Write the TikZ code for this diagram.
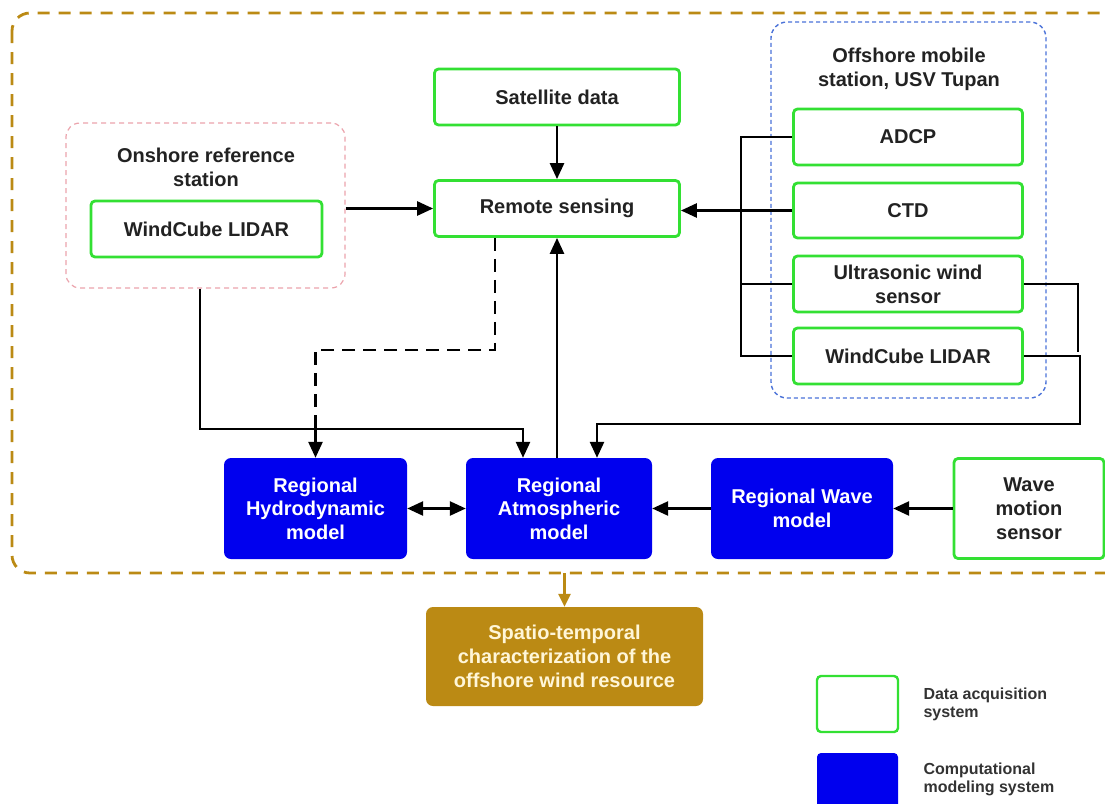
\documentclass[tikz,border=0pt]{standalone}
\usepackage{fontspec}
\setmainfont{Liberation Sans}
\usetikzlibrary{arrows.meta,calc}
\definecolor{gold}{HTML}{BB8A14}
\definecolor{dgreen}{HTML}{33E033}
\definecolor{mblue}{HTML}{0000EE}
\definecolor{pinkd}{HTML}{EBA3AC}
\definecolor{blued}{HTML}{4A72D8}
\definecolor{txt}{HTML}{222222}
\definecolor{cream}{HTML}{FFF6D8}
\begin{document}
\begin{tikzpicture}[x=1pt,y=-1pt,
  acq/.style={draw=dgreen, line width=2.8pt, fill=white, rounded corners=4pt,
    font=\bfseries\fontsize{20}{24}\selectfont, text=txt, align=center, inner sep=0pt},
  comp/.style={fill=mblue, rounded corners=7pt, text=white, inner sep=0pt,
    font=\bfseries\fontsize{20}{23.5}\selectfont, align=center,
    minimum height=101pt},
  ttl/.style={font=\bfseries\fontsize{20}{24}\selectfont, text=txt, align=center},
  conn/.style={line width=2.6pt, -{Triangle[length=16pt,width=14pt]}},
  plain/.style={line width=2.6pt},
  legtxt/.style={font=\bfseries\fontsize{16}{18}\selectfont, text=black!80, align=left, anchor=west}
]
\useasboundingbox (0,0) rectangle (1105,803);
\clip (0,0) rectangle (1105,803);

% outer gold dashed frame
\draw[gold, line width=2.8pt, dash pattern=on 12pt off 9pt, rounded corners=18pt] (12,13) rectangle (1140,573);
\coordinate (gtop) at (564.5,573);

% containers
\node[draw=pinkd, dash pattern=on 5pt off 4pt, line width=1.2pt, rounded corners=14pt,
  minimum width=279pt, minimum height=165pt] (onshore) at (205.5,205.5) {};
\node[ttl] (ontitle) at (206,167) {Onshore reference\\station};
\node[draw=blued, dash pattern=on 4pt off 3pt, line width=1.4pt, rounded corners=16pt,
  minimum width=275pt, minimum height=376pt] (offshore) at (908.5,210) {};
\node[ttl] (offtitle) at (909,69) {Offshore mobile\\station, USV Tupan};

% data acquisition boxes
\node[acq, minimum width=231pt, minimum height=56pt] (lidar1) at (206.5,229) {WindCube LIDAR};
\node[acq, minimum width=245pt, minimum height=56pt] (sat) at (557,97) {Satellite data};
\node[acq, minimum width=245pt, minimum height=56pt] (rs) at (557,208.5) {Remote sensing};
\node[acq, minimum width=229pt, minimum height=56pt] (adcp) at (908,137) {ADCP};
\node[acq, minimum width=229pt, minimum height=55pt] (ctd) at (908,210.5) {CTD};
\node[acq, minimum width=229pt, minimum height=56pt] (ultra) at (908,284) {Ultrasonic wind\\sensor};
\node[acq, minimum width=229pt, minimum height=56pt] (lidar2) at (908,356) {WindCube LIDAR};
\node[acq, minimum width=150pt, minimum height=100pt] (wms) at (1029,508.5) {Wave\\motion\\sensor};

% computational boxes
\node[comp, minimum width=183pt] (hydro) at (315.5,508.5) {Regional\\Hydrodynamic\\model};
\node[comp, minimum width=186pt] (atmo) at (559,508.5) {Regional\\Atmospheric\\model};
\node[comp, minimum width=182pt] (wave) at (802,508.5) {Regional Wave\\model};

% result box
\node[fill=gold, rounded corners=7pt, text=cream, font=\bfseries\fontsize{20}{24}\selectfont,
  align=center, minimum width=277pt, minimum height=99pt, inner sep=0pt] (final) at (564.5,656.5)
  {Spatio-temporal\\characterization of the\\offshore wind resource};

% legend
\node[draw=dgreen, line width=2.4pt, fill=white, rounded corners=4pt, minimum width=81pt, minimum height=56pt] (legacq) at (857.5,704) {};
\node[legtxt] (legacqt) at (920,704) {Data acquisition\\system};
\node[fill=mblue, rounded corners=4pt, minimum width=81pt, minimum height=70pt] (legcomp) at (857.5,788) {};
\node[legtxt] (legcompt) at (920,779) {Computational\\modeling system};

% connectors
\draw[conn] (sat) -- (rs);
\draw[conn] (onshore.east |- rs.west) -- (rs.west);
\draw[conn] (ctd.west) -- (ctd.west -| rs.east);

\coordinate (bx) at (741,0);
\draw[plain] (adcp.west) -- (adcp.west -| bx) -- (lidar2.west -| bx) -- (lidar2.west);
\draw[plain] (ultra.west) -- (ultra.west -| bx);

\coordinate (r1) at (1078,352);
\draw[plain] (ultra.east) -| (r1);
\coordinate (r2) at (1080,424);
\draw[conn] (lidar2.east) -| (r2) -| ([xshift=38pt]atmo.north);

\coordinate (l1) at (200,429);
\draw[conn] ([xshift=-5.5pt]onshore.south) -- (l1) -| ([xshift=-36pt]atmo.north);
\draw[conn] (hydro.north |- l1) -- (hydro.north);

\coordinate (d1) at (495,350);
\draw[plain, dash pattern=on 13pt off 8pt] (rs.south -| d1) -- (d1) -| (hydro.north |- l1);

\draw[conn] (atmo.north -| rs.south) -- (rs.south);

\draw[line width=2.6pt, {Triangle[length=16pt,width=14pt]}-{Triangle[length=16pt,width=14pt]}] (hydro) -- (atmo);
\draw[conn] (wave) -- (atmo);
\draw[conn] (wms) -- (wave);

\draw[gold, line width=2.5pt, -{Triangle[length=13pt,width=12pt]}] (gtop) -- (final.north);
\end{tikzpicture}
\end{document}
